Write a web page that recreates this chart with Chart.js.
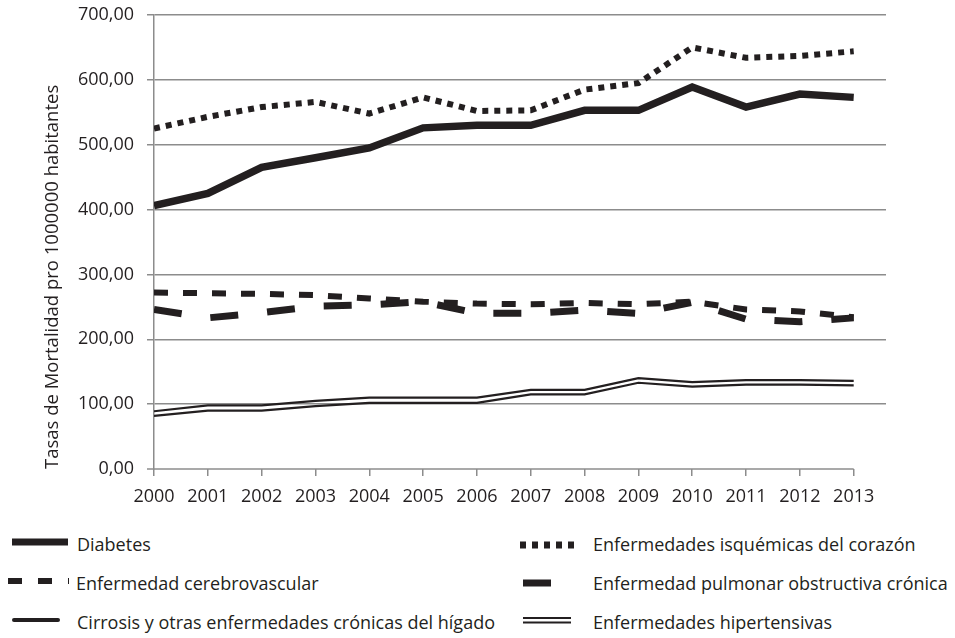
<!DOCTYPE html>
<html>
<head>
<meta charset="utf-8">
<script src="https://cdn.jsdelivr.net/npm/chart.js@4"></script>
<style>
  body { margin: 0; background: #fff; font-family: "Open Sans", sans-serif; color: #231f20; }
  #wrap { position: relative; width: 955px; height: 512px; }
  #legend { position: relative; width: 955px; height: 126px; }
  .item { position: absolute; font-size: 18px; line-height: 24px; white-space: nowrap; }
</style>
</head>
<body>
<div id="wrap"><canvas id="chart"></canvas></div>
<div id="legend"></div>
<script>
const years = [2000, 2001, 2002, 2003, 2004, 2005, 2006, 2007, 2008, 2009, 2010, 2011, 2012, 2013];
const seriesNames = [
    "Diabetes",
    "Enfermedades isquémicas del corazón",
    "Enfermedad cerebrovascular",
    "Enfermedad pulmonar obstructiva crónica",
    "Cirrosis y otras enfermedades crónicas del hígado",
    "Enfermedades hipertensivas"
];
const diabetes = [406, 425, 465, 480, 495, 526, 530, 530, 553, 553, 589, 558, 578, 573];
const isquemicas = [525, 543, 558, 566, 548, 573, 552, 553, 585, 595, 650, 634, 637, 644];
const cerebrovascular = [272, 271, 270, 268, 263, 258, 255, 254, 256, 254, 258, 246, 243, 234];
const pulmonar = [246, 233, 241, 251, 253, 258, 240, 240, 245, 240, 257, 231, 227, 233];
const cirrosis = [89, 98, 98, 105, 110, 110, 110, 122, 122, 140, 134, 137, 137, 136];
const hipertensivas = [82, 90, 90, 97, 102, 102, 102, 115, 115, 133, 127, 130, 130, 129];
const yTicks = [0, 100, 200, 300, 400, 500, 600, 700];

const ink = "#231f20";
const gridGrey = "#8c8c8c";
const fontFamily = "Open Sans";

// estilos de cada serie (mismo orden que seriesNames)
const styles = [
    { width: 7.5, dash: [] },
    { width: 6, dash: [6, 6] },
    { width: 6, dash: [14, 15] },
    { width: 7, dash: [28, 29] },
    { width: 2.2, dash: [] },
    { width: 2.2, dash: [] }
];
const allData = [diabetes, isquemicas, cerebrovascular, pulmonar, cirrosis, hipertensivas];

const datasets = allData.map((vals, i) => ({
    label: seriesNames[i],
    data: vals.map((v, j) => ({ x: years[j], y: v })),
    borderColor: ink,
    borderWidth: styles[i].width,
    borderDash: styles[i].dash,
    borderCapStyle: "butt",
    borderJoinStyle: "miter",
    pointRadius: 0,
    tension: 0,
    fill: false
}));

// eje x solo de 2000 a 2013
const axisLine = {
    id: "axisLine",
    afterDraw(chart) {
        const ctx = chart.ctx;
        const x = chart.scales.x, y = chart.scales.y;
        const py = y.getPixelForValue(0);
        ctx.save();
        ctx.strokeStyle = gridGrey;
        ctx.lineWidth = 1.5;
        ctx.beginPath();
        ctx.moveTo(x.getPixelForValue(years[0]) - 7, py);
        ctx.lineTo(x.getPixelForValue(years[years.length - 1]), py);
        ctx.stroke();
        ctx.restore();
    }
};

new Chart(document.getElementById("chart"), {
    type: "line",
    data: { datasets: datasets },
    plugins: [axisLine],
    options: {
        responsive: true,
        maintainAspectRatio: false,
        animation: false,
        layout: { padding: { left: 42, right: 69, top: 15, bottom: 0 } },
        plugins: { legend: { display: false }, tooltip: { enabled: false } },
        scales: {
            x: {
                type: "linear",
                min: 2000,
                max: 2013.6,
                afterBuildTicks: (scale) => { scale.ticks = years.map(v => ({ value: v })); },
                afterFit: (scale) => { scale.height = 43; },
                ticks: { color: ink, font: { family: fontFamily, size: 18 }, padding: 10, maxRotation: 0,
                    callback: (v) => String(v) },
                grid: { drawOnChartArea: false, drawTicks: true, tickLength: 7, color: gridGrey, lineWidth: 1.5 },
                border: { display: false }
            },
            y: {
                min: 0,
                max: 700,
                afterBuildTicks: (scale) => { scale.ticks = yTicks.map(v => ({ value: v })); },
                afterFit: (scale) => { scale.width = 112; scale.paddingTop = 0; scale.paddingBottom = 0; },
                ticks: { color: ink, font: { family: fontFamily, size: 18 }, padding: 13,
                    callback: (v) => v.toFixed(2).replace(".", ",") },
                grid: { color: (c) => c.tick && c.tick.value === 0 ? "rgba(0,0,0,0)" : gridGrey, lineWidth: 1.5, tickLength: 7 },
                border: { display: true, color: gridGrey, width: 1.5 },
                title: { display: true, text: "Tasas de Mortalidad pro 1000000 habitantes", color: ink, align: "start",
                    font: { family: fontFamily, size: 18.5 }, padding: { top: 0, bottom: 0 } }
            }
        }
    }
});

// leyenda en dos columnas (ty: centro del texto, sy: centro de la muestra)
const legendPos = [
    { x: 12, sy: 30, w: 56, tx: 77, ty: 32 },
    { x: 520, sy: 33, w: 55, tx: 593, ty: 32 },
    { x: 8, sy: 69, w: 61, tx: 76, ty: 71 },
    { x: 523, sy: 71, w: 29, tx: 593, ty: 71 },
    { x: 12, sy: 108, w: 48, tx: 77, ty: 110 },
    { x: 523, sy: 108, w: 48, tx: 593, ty: 110 }
];
const legend = document.getElementById("legend");
seriesNames.forEach((name, i) => {
    const p = legendPos[i];
    const item = document.createElement("div");
    item.className = "item";
    item.style.left = p.tx + "px";
    item.style.top = (p.ty - 12) + "px";
    item.textContent = name;
    legend.appendChild(item);

    const c = document.createElement("canvas");
    c.width = p.w; c.height = 20;
    c.style.position = "absolute";
    c.style.left = p.x + "px";
    c.style.top = (p.sy - 10) + "px";
    legend.appendChild(c);
    const g = c.getContext("2d");
    g.strokeStyle = ink;
    if (i === 5) {
        g.lineWidth = 2;
        g.beginPath(); g.moveTo(0, 8); g.lineTo(p.w, 8); g.stroke();
        g.beginPath(); g.moveTo(0, 12.5); g.lineTo(p.w, 12.5); g.stroke();
    } else if (i === 4) {
        g.lineWidth = 4;
        g.lineCap = "round";
        g.beginPath(); g.moveTo(2, 10); g.lineTo(p.w - 2, 10); g.stroke();
    } else {
        g.lineWidth = i === 2 ? 6 : 7;
        g.setLineDash(i === 2 ? [14, 16] : styles[i].dash);
        g.beginPath(); g.moveTo(0, 10); g.lineTo(p.w, 10); g.stroke();
    }
});
</script>
</body>
</html>
